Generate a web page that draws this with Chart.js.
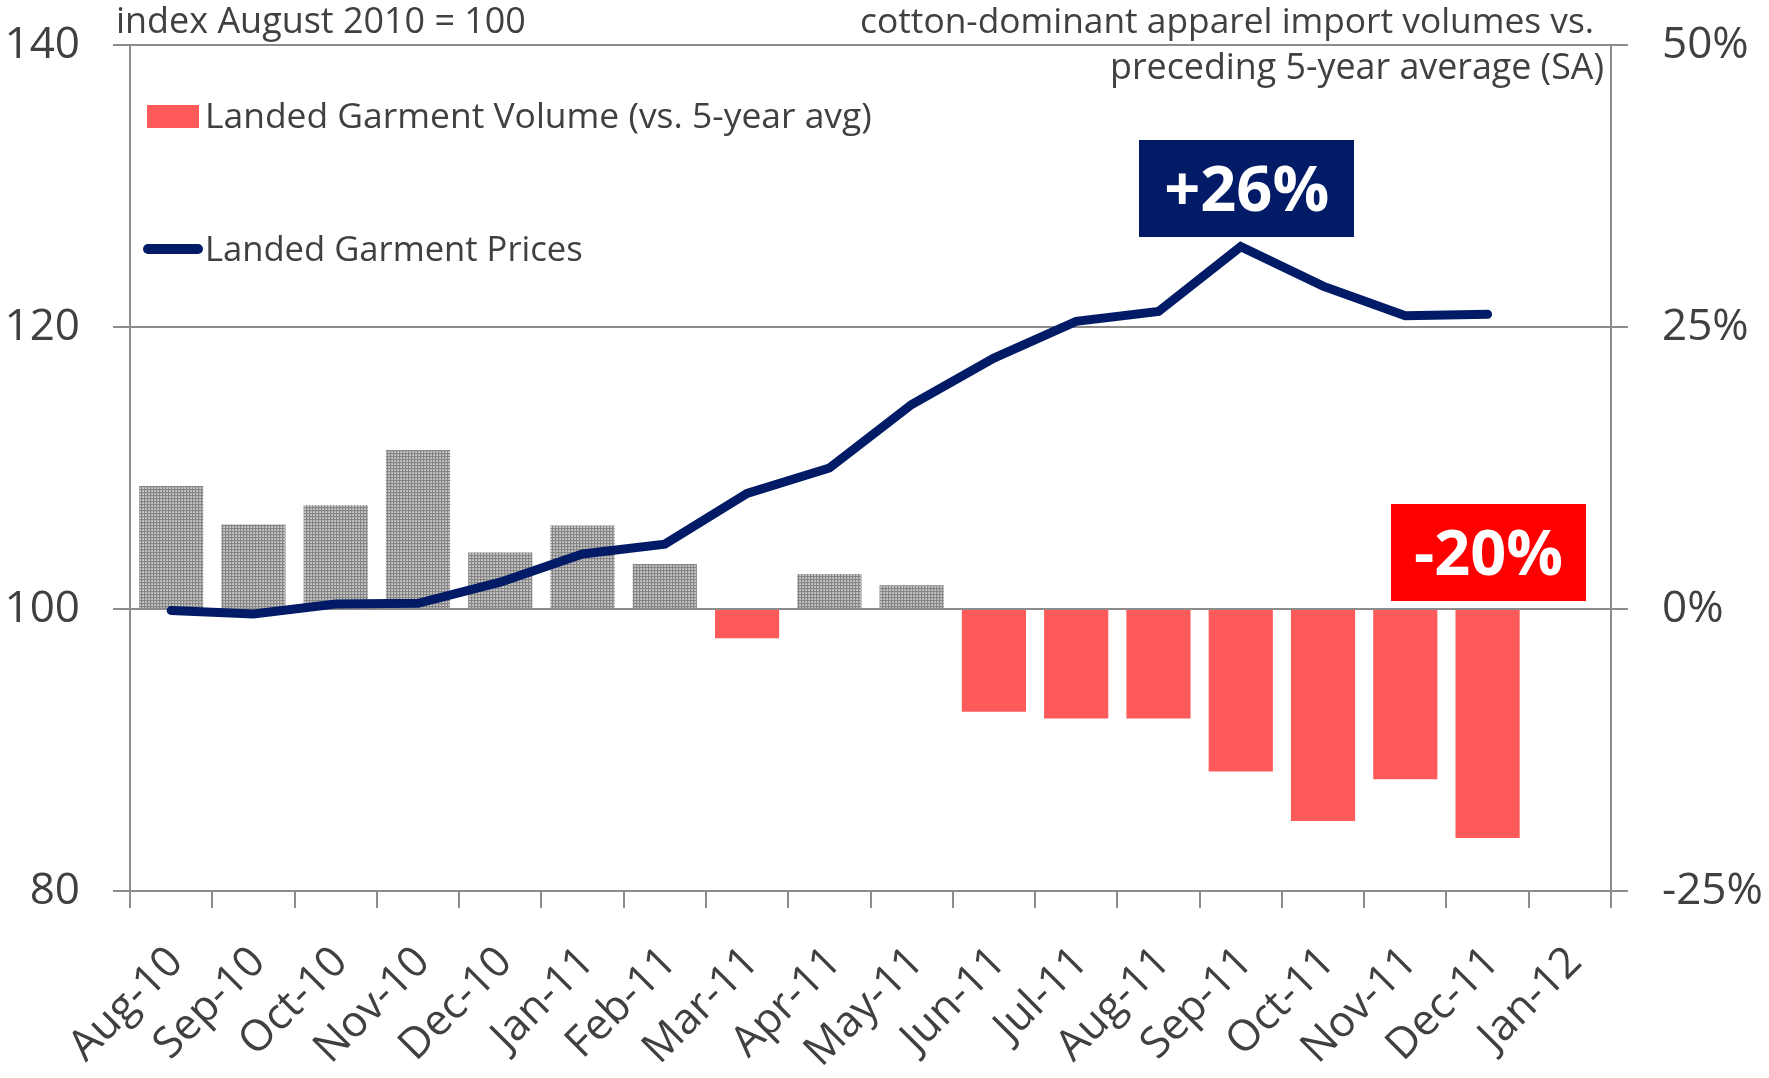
<!DOCTYPE html>
<html>
<head>
<meta charset="utf-8">
<script src="https://cdn.jsdelivr.net/npm/chart.js@4.4.1/dist/chart.umd.min.js"></script>
<style>
html,body{margin:0;padding:0;background:#fff;overflow:hidden}
#wrap{width:1769px;height:1078px;position:relative}
</style>
</head>
<body>
<div id="wrap"><canvas id="c" width="1769" height="1078"></canvas></div>
<script>
// ---- data ----
const categories = ['Aug-10','Sep-10','Oct-10','Nov-10','Dec-10','Jan-11','Feb-11','Mar-11','Apr-11','May-11','Jun-11','Jul-11','Aug-11','Sep-11','Oct-11','Nov-11','Dec-11','Jan-12'];
const landedGarmentPrices = [99.9, 99.65, 100.35, 100.4, 101.9, 103.9, 104.6, 108.2, 110.0, 114.5, 117.8, 120.4, 121.1, 125.7, 122.9, 120.8, 120.9, null];
const landedGarmentVolume = [10.9, 7.5, 9.2, 14.1, 5.0, 7.4, 4.0, -2.6, 3.1, 2.1, -9.1, -9.7, -9.7, -14.4, -18.8, -15.1, -20.3, null];
const leftTicks = [80, 100, 120, 140];
const rightTicks = [-25, 0, 25, 50];
const titleLeft = 'index August 2010 = 100';
const titleRight1 = 'cotton-dominant apparel import volumes vs.';
const titleRight2 = 'preceding 5-year average (SA)';
const legendVolume = 'Landed Garment Volume (vs. 5-year avg)';
const legendPrices = 'Landed Garment Prices';
const calloutPrice = '+26%';
const calloutVolume = '-20%';

// ---- styles ----
const FONT = "'Open Sans', 'Noto Sans', sans-serif";
const NAVY = '#021B66';
const RED_BAR = '#FF5A5A';
const RED_BOX = '#FF0000';
const TEXT = '#404040';
const AXIS = '#8c8c8c';

function makePattern() {
  const t = document.createElement('canvas');
  t.width = 3; t.height = 3;
  const g = t.getContext('2d');
  g.fillStyle = '#b8b8b8'; g.fillRect(0,0,3,3);
  g.fillStyle = '#858585'; g.fillRect(0,0,3,1); g.fillRect(0,0,1,3);
  g.fillStyle = '#d2d2d2'; g.fillRect(2,2,1,1);
  return g.createPattern(t, 'repeat');
}
const grayPattern = makePattern();

function fitText(ctx, text, weight, targetW) {
  ctx.font = weight + ' 100px ' + FONT;
  const w = ctx.measureText(text).width;
  const size = 100 * targetW / w;
  ctx.font = weight + ' ' + size.toFixed(2) + 'px ' + FONT;
  return size;
}

function drawCallout(ctx, text, cx, cy, w, h, bg, textW) {
  ctx.save();
  ctx.fillStyle = bg;
  ctx.fillRect(Math.round(cx - w/2), Math.round(cy - h/2), w, h);
  fitText(ctx, text, 'bold', textW);
  ctx.fillStyle = '#ffffff';
  ctx.textAlign = 'center';
  ctx.textBaseline = 'alphabetic';
  ctx.fillText(text, cx, cy - h/2 + 71);
  ctx.restore();
}

const overlay = {
  id: 'overlay',
  afterDatasetsDraw(chart) {
    const {ctx, scales: {x, y}} = chart;
    drawCallout(ctx, calloutPrice, x.getPixelForValue(13) + 6, y.getPixelForValue(129.8), 215, 97, NAVY, 165);
    drawCallout(ctx, calloutVolume, x.getPixelForValue(16) + 1, y.getPixelForValue(104.0), 195, 97, RED_BOX, 149);
  },
  afterDraw(chart) {
    const ctx = chart.ctx;
    ctx.save();
    ctx.fillStyle = TEXT;
    ctx.textBaseline = 'alphabetic';
    // headers
    ctx.textAlign = 'left';
    fitText(ctx, titleLeft, 'normal', 410);
    ctx.fillText(titleLeft, 116, 33);
    ctx.textAlign = 'right';
    fitText(ctx, titleRight1, 'normal', 734);
    ctx.fillText(titleRight1, 1594, 33);
    fitText(ctx, titleRight2, 'normal', 494);
    ctx.fillText(titleRight2, 1604, 79);
    // legend
    ctx.fillStyle = RED_BAR;
    ctx.fillRect(147, 105, 52, 23);
    ctx.fillStyle = TEXT;
    ctx.textAlign = 'left';
    fitText(ctx, legendVolume, 'normal', 667);
    ctx.fillText(legendVolume, 205, 128);
    ctx.strokeStyle = NAVY;
    ctx.lineWidth = 10;
    ctx.lineCap = 'round';
    ctx.beginPath(); ctx.moveTo(148, 249); ctx.lineTo(198, 249); ctx.stroke();
    fitText(ctx, legendPrices, 'normal', 378);
    ctx.fillText(legendPrices, 205, 261);
    ctx.restore();
  }
};

new Chart(document.getElementById('c'), {
  data: {
    labels: categories,
    datasets: [
      {
        type: 'line',
        label: legendPrices,
        data: landedGarmentPrices,
        yAxisID: 'y',
        borderColor: NAVY,
        borderWidth: 9,
        borderCapStyle: 'round',
        borderJoinStyle: 'miter',
        pointRadius: 0,
        tension: 0,
        order: 0
      },
      {
        type: 'bar',
        label: legendVolume,
        data: landedGarmentVolume,
        yAxisID: 'y1',
        backgroundColor: (c) => (c.raw !== null && c.raw >= 0) ? grayPattern : RED_BAR,
        borderWidth: 0,
        barPercentage: 0.78,
        categoryPercentage: 1.0,
        order: 1
      }
    ]
  },
  options: {
    responsive: false,
    animation: false,
    devicePixelRatio: 1,
    layout: { padding: { top: 45, left: 0, right: 0, bottom: 0 } },
    plugins: { legend: { display: false }, tooltip: { enabled: false } },
    scales: {
      x: {
        type: 'category',
        offset: true,
        grid: { offset: true, drawOnChartArea: false, drawTicks: true, tickLength: 17, color: AXIS, lineWidth: 2 },
        border: { display: true, color: AXIS, width: 2 },
        ticks: { autoSkip: false, maxRotation: 45, minRotation: 45, padding: 29, labelOffset: 5, color: TEXT, font: { family: FONT, size: 43 } },
        afterFit: (s) => { s.height = 187; }
      },
      y: {
        position: 'left',
        min: 80, max: 140,
        afterBuildTicks: (s) => { s.ticks = leftTicks.map(v => ({ value: v })); },
        grid: { drawOnChartArea: true, drawTicks: true, tickLength: 17, color: AXIS, lineWidth: 2 },
        border: { display: true, color: AXIS, width: 2 },
        ticks: { padding: 33, color: TEXT, font: { family: FONT, size: 44, lineHeight: 0.4 } },
        afterFit: (s) => { s.width = 130; }
      },
      y1: {
        position: 'right',
        min: -25, max: 50,
        afterBuildTicks: (s) => { s.ticks = rightTicks.map(v => ({ value: v })); },
        grid: { drawOnChartArea: false, drawTicks: true, tickLength: 17, color: AXIS, lineWidth: 2 },
        border: { display: true, color: AXIS, width: 2 },
        ticks: { padding: 34, color: TEXT, font: { family: FONT, size: 44, lineHeight: 0.4 }, callback: (v) => v + '%' },
        afterFit: (s) => { s.width = 158; }
      }
    }
  },
  plugins: [overlay]
});
</script>
</body>
</html>
